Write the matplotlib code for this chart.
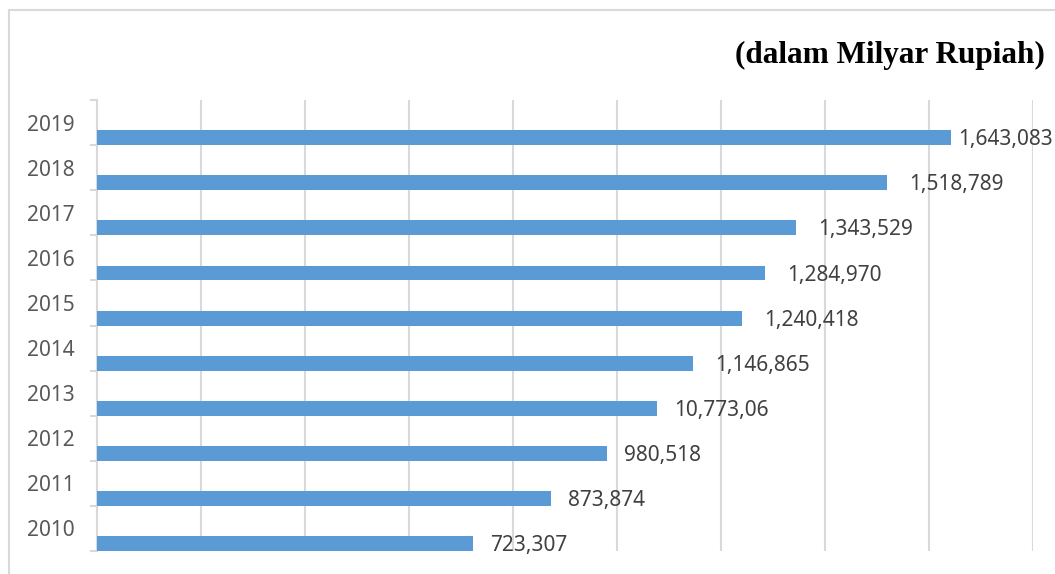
import matplotlib.pyplot as plt
from matplotlib.lines import Line2D

years = ["2010", "2011", "2012", "2013", "2014", "2015", "2016", "2017", "2018", "2019"]
values = [723307, 873874, 980518, 1077306, 1146865, 1240418, 1284970, 1343529, 1518789, 1643083]
value_labels = ["723,307", "873,874", "980,518", "10,773,06", "1,146,865",
                "1,240,418", "1,284,970", "1,343,529", "1,518,789", "1,643,083"]
unit_title = "(dalam Milyar Rupiah)"

BAR = "#5b9bd5"
GRID = "#d9d9d9"

fig = plt.figure(figsize=(10.55, 5.74), dpi=100)
ax = fig.add_axes([97 / 1055, 1 - 551 / 574, (1033 - 97) / 1055, (551 - 100) / 574])

pos = list(range(len(years)))
bar_h = 0.33
ax.barh([p - 0.5 for p in pos], values, height=bar_h, align="edge", color=BAR, zorder=3)

# label gaps (points) as placed in the original
gaps = [12, 12, 12, 12, 16, 16, 16, 16, 16, 5]
for p, v, lab, g in zip(pos, values, value_labels, gaps):
    ax.annotate(lab, (v, p - 0.5 + bar_h / 2), xytext=(g, -1.5), textcoords="offset points",
                ha="left", va="center", fontsize=15, color="#404040", family="Noto Sans",
                annotation_clip=False)

ax.set_xlim(0, 1800000)
ax.set_ylim(-0.5, len(years) - 0.5)
ax.set_xticks(range(0, 1800001, 200000))
ax.xaxis.grid(True, color=GRID, linewidth=1.5, zorder=0)
ax.tick_params(axis="x", length=0, labelbottom=False)

ax.set_yticks(pos)
ax.set_yticklabels(years, fontsize=15, color="#595959", family="Noto Sans")
ax.set_yticks([p - 0.5 for p in pos] + [len(years) - 0.5], minor=True)
ax.tick_params(axis="y", which="major", length=0, pad=16)
ax.tick_params(axis="y", which="minor", length=5, color=GRID, width=1.5)

for s in ["top", "right", "bottom"]:
    ax.spines[s].set_visible(False)
ax.spines["left"].set_color(GRID)
ax.spines["left"].set_linewidth(1.5)

fig.text(1045 / 1055, 1 - 55 / 574, unit_title, ha="right", va="center",
         fontsize=22.5, fontweight="bold", family="Liberation Serif", color="black")

# chart frame (only left/top visible in the crop)
fig.add_artist(Line2D([8.5 / 1055, 8.5 / 1055], [0, 1 - 10 / 574], transform=fig.transFigure,
                      color=GRID, linewidth=1.5))
fig.add_artist(Line2D([8.5 / 1055, 1], [1 - 10 / 574, 1 - 10 / 574], transform=fig.transFigure,
                      color=GRID, linewidth=1.5))

fig.savefig("out.png", dpi=100)
